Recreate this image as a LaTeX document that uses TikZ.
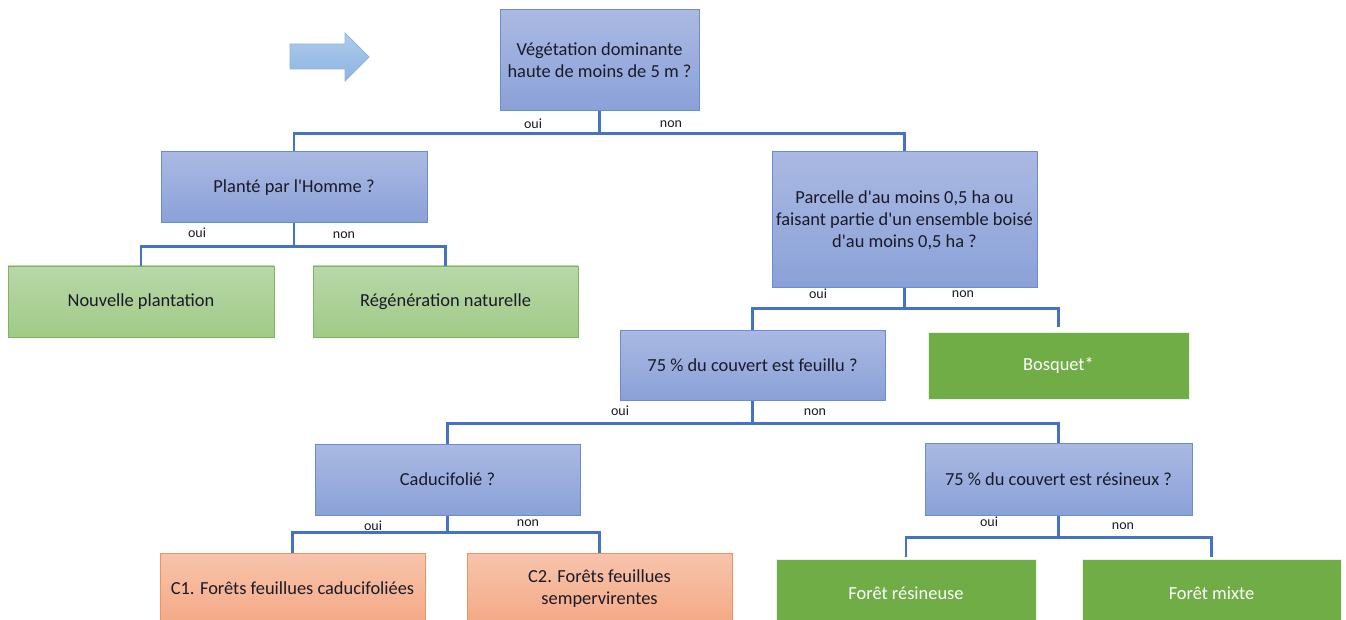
\documentclass[tikz,border=0pt]{standalone}
\usepackage{fontspec}
\setmainfont{Carlito}
\definecolor{txt}{HTML}{1A1A28}
\definecolor{conncol}{HTML}{4472C4}
\definecolor{qtop}{HTML}{AAB9E2}
\definecolor{qbot}{HTML}{8AA1D8}
\definecolor{qbrd}{HTML}{6A8CD0}
\definecolor{gtop}{HTML}{B8D8AA}
\definecolor{gbot}{HTML}{A1CA86}
\definecolor{gbrd}{HTML}{80B560}
\definecolor{dgreen}{HTML}{70AD47}
\definecolor{otop}{HTML}{F7C4AC}
\definecolor{obot}{HTML}{F4A985}
\definecolor{obrd}{HTML}{F0925A}
\definecolor{atop}{HTML}{AECBEB}
\definecolor{abot}{HTML}{8DB4E1}
\definecolor{abrd}{HTML}{90B5E2}
\tikzset{
  box/.style={rectangle, inner sep=2pt, align=center, text=txt,
    font=\fontsize{18.4}{22}\selectfont},
  qbox/.style={box, draw=qbrd, line width=1pt, top color=qtop, bottom color=qbot},
  lgbox/.style={box, draw=gbrd, line width=0.8pt, top color=gtop, bottom color=gbot},
  dgbox/.style={box, draw=white!85!dgreen, line width=0.8pt, fill=dgreen, text=white},
  obox/.style={box, draw=obrd, line width=1pt, top color=otop, bottom color=obot},
  conn/.style={draw=conncol, line width=2.3pt},
  lbl/.style={text=txt, inner sep=0pt, font=\fontsize{14}{16}\selectfont},
}
\begin{document}
\begin{tikzpicture}[x=1pt,y=-1pt]
\useasboundingbox (0,0) rectangle (1346,620);
\clip (0,0) rectangle (1346,620);
\fill[white] (0,0) rectangle (1346,620);

% arrow
\draw[draw=abrd, line width=0.8pt, top color=atop, bottom color=abot]
  (290,44) -- (345,44) -- (345,33) -- (369,57) -- (345,81) -- (345,69) -- (290,69) -- cycle;

% nodes
\node[qbox, minimum width=199, minimum height=101] (V) at (599.5,60.5) {Végétation dominante\\haute de moins de 5 m ?};
\node[qbox, minimum width=266, minimum height=71] (P) at (294,187.5) {Planté par l\textquotesingle Homme ?};
\node[qbox, minimum width=265, minimum height=136] (Q) at (904.5,220) {Parcelle d\textquotesingle au moins 0,5 ha ou\\faisant partie d\textquotesingle un ensemble boisé\\d\textquotesingle au moins 0,5 ha ?};
\node[lgbox, minimum width=266, minimum height=71] (N) at (141,301.5) {Nouvelle plantation};
\node[lgbox, minimum width=265, minimum height=71] (R) at (445.5,301.5) {Régénération naturelle};
\node[qbox, minimum width=265, minimum height=70] (F) at (752.5,365) {75 \% du couvert est feuillu ?};
\node[dgbox, minimum width=261, minimum height=67] (B) at (1058.5,365.5) {Bosquet*};
\node[qbox, minimum width=265, minimum height=71] (C) at (447.5,479.5) {Caducifolié ?};
\node[qbox, minimum width=267, minimum height=72] (S) at (1058.5,479) {75 \% du couvert est résineux ?};
\node[obox, minimum width=265, minimum height=71] (C1) at (292.5,588.5) {C1. Forêts feuillues caducifoliées};
\node[obox, minimum width=265, minimum height=71] (C2) at (599.5,588.5) {C2. Forêts feuillues\\sempervirentes};
\node[dgbox, minimum width=260, minimum height=69] (FR) at (906,593.5) {Forêt résineuse};
\node[dgbox, minimum width=259, minimum height=69] (FM) at (1211.5,593.5) {Forêt mixte};

% connectors
\draw[conn] (V.south) -- ++(0,22) coordinate (j1);
\draw[conn] (P.north) |- (j1) -| (Q.north);
\draw[conn] (P.south) -- ++(0,23) coordinate (j2);
\draw[conn] (N.north) |- (j2) -| (R.north);
\draw[conn] (Q.south) -- ++(0,20) coordinate (j3);
\draw[conn] (F.north) |- (j3);
\draw[conn, shorten >=5pt] (j3) -| (B.north);
\draw[conn] (F.south) -- ++(0,23) coordinate (j4);
\draw[conn] (C.north) |- (j4) -| (S.north);
\draw[conn] (C.south) -- ++(0,17) coordinate (j5);
\draw[conn] (C1.north) |- (j5) -| (C2.north);
\draw[conn] (S.south) -- ++(0,22) coordinate (j6);
\draw[conn, shorten <=2pt] (FR.north) |- (j6);
\draw[conn, shorten >=2pt] (j6) -| (FM.north);

% labels
\node[lbl] (l1) at (533,124) {oui};
\node[lbl] (l2) at (671,124) {non};
\node[lbl] (l3) at (197,233) {oui};
\node[lbl] (l4) at (344,235) {non};
\node[lbl] (l5) at (818,294) {oui};
\node[lbl] (l6) at (963,294) {non};
\node[lbl] (l7) at (620,411) {oui};
\node[lbl] (l8) at (815,412) {non};
\node[lbl] (l9) at (373,526) {oui};
\node[lbl] (l10) at (528,523) {non};
\node[lbl] (l11) at (989,522) {oui};
\node[lbl] (l12) at (1123,526) {non};
\end{tikzpicture}
\end{document}
